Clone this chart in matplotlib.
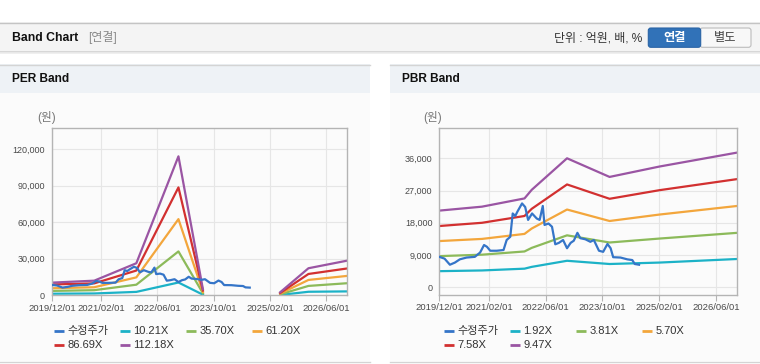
import numpy as np
import pandas as pd
import matplotlib
matplotlib.use('Agg')
import matplotlib.pyplot as plt
from matplotlib.patches import Rectangle, FancyBboxPatch
from matplotlib.ticker import FuncFormatter

plt.rcParams['font.family'] = ['Liberation Sans', 'Noto Sans CJK KR']

# ---------------- data ----------------
price_dates = ['2019-12-01', '2020-01-15', '2020-03-01', '2020-04-13', '2020-05-25', '2020-07-22',
               '2020-10-01', '2020-11-15', '2020-12-19', '2021-01-13', '2021-02-10', '2021-04-07',
               '2021-06-04', '2021-07-01', '2021-08-01', '2021-08-22', '2021-09-13', '2021-10-01',
               '2021-11-10', '2021-12-07', '2022-01-01', '2022-02-04', '2022-03-16', '2022-04-10',
               '2022-05-07', '2022-05-22', '2022-06-25', '2022-07-25', '2022-08-22', '2022-09-22',
               '2022-10-28', '2022-12-01', '2023-01-01', '2023-01-28', '2023-02-28', '2023-03-25',
               '2023-05-07', '2023-06-19', '2023-07-19', '2023-09-01', '2023-10-07', '2023-11-13',
               '2023-12-10', '2024-01-01', '2024-03-04', '2024-05-01', '2024-06-13', '2024-07-04',
               '2024-08-10']
price_values = [8500, 8000, 6300, 6900, 7800, 8300,
                8500, 9700, 11800, 11300, 10200, 10200,
                10400, 13200, 14100, 20600, 19900, 21100,
                23400, 22400, 18800, 20600, 19200, 18800,
                22700, 17400, 17800, 16900, 12000, 12400,
                13200, 10900, 12400, 13000, 15200, 13700,
                13400, 12700, 13200, 10200, 9900, 12100,
                10900, 8400, 8300, 7800, 7600, 6500,
                6300]

per_dates = ['2019-12-01', '2020-12-01', '2021-12-01', '2022-12-01', '2023-07-01',
             '2024-06-01', '2025-05-01', '2026-01-01', '2026-12-01']
per_labels = ['10.21X', '35.70X', '61.20X', '86.69X', '112.18X']
per_10 = [1300, 1500, 2800, 10500, 500, np.nan, 300, 2900, 3200]
per_35 = [3600, 4200, 8700, 36000, 1700, np.nan, 800, 7700, 9900]
per_61 = [5800, 6600, 14700, 62500, 2800, np.nan, 1400, 12600, 15900]
per_86 = [8900, 9800, 20300, 88500, 3900, np.nan, 1900, 17500, 22000]
per_112 = [10400, 12000, 26300, 114000, 5000, np.nan, 2500, 22200, 28400]

pbr_dates = ['2019-12-01', '2020-12-01', '2021-12-01', '2022-02-01', '2022-12-01',
             '2023-12-01', '2025-02-01', '2026-12-01']
pbr_labels = ['1.92X', '3.81X', '5.70X', '7.58X', '9.47X']
pbr_1 = [4500, 4700, 5200, 5700, 7400, 6500, 6900, 7900]
pbr_3 = [8700, 9100, 10000, 11000, 14500, 12500, 13600, 15200]
pbr_5 = [12900, 13500, 14900, 16400, 21700, 18500, 20300, 22700]
pbr_7 = [17100, 18000, 19900, 21900, 28700, 24700, 27100, 30200]
pbr_9 = [21400, 22500, 24800, 27200, 36000, 30800, 33700, 37600]

xtick_labels = ['2019/12/01', '2021/02/01', '2022/06/01', '2023/10/01', '2025/02/01', '2026/06/01']
per_yticks = [0, 30000, 60000, 90000, 120000]
pbr_yticks = [0, 9000, 18000, 27000, 36000]

price_label = '수정주가'
colors = ['#3575c8', '#1cb2c7', '#8cba5a', '#f3a63c', '#d23030', '#9a55a3']

# ---------------- figure ----------------
W, H = 760, 364
fig = plt.figure(figsize=(W / 100, H / 100), dpi=100, facecolor='white')
bg = fig.add_axes([0, 0, 1, 1])
bg.set_xlim(0, W)
bg.set_ylim(H, 0)
bg.axis('off')

# header bar
bg.add_patch(Rectangle((0, 22), W, 30, fc='#f4f4f4', ec='none'))
bg.plot([0, W], [22.5, 22.5], color='#c4c4c4', lw=1)
bg.plot([0, W], [51.5, 51.5], color='#d4d4d4', lw=1.3)
bg.plot([0, W], [53, 53], color='#ececec', lw=1.2)
bg.text(12, 38, 'Band Chart', fontsize=8.8, fontweight='bold', color='#111111', va='center')
bg.text(88, 38, '[연결]', fontsize=8.6, color='#8a8a8a', va='center')
bg.text(642, 38.5, '단위 : 억원, 배, %', fontsize=8.6, color='#333333', va='center', ha='right')
bg.add_patch(FancyBboxPatch((700, 28), 51, 19.3, boxstyle='round,pad=0,rounding_size=2.5',
                            fc='#f8f8f8', ec='#bcbcbc', lw=0.8))
bg.add_patch(FancyBboxPatch((648.3, 28), 52.4, 19.3, boxstyle='round,pad=0,rounding_size=2.5',
                            fc='#3172b8', ec='#2a64a6', lw=0.8))
bg.text(674.5, 38, '연결', fontsize=8.8, fontweight='bold', color='white', ha='center', va='center')
bg.text(725.5, 38, '별도', fontsize=8.8, color='#444444', ha='center', va='center')

# panels
for px0, title in [(0, 'PER Band'), (390, 'PBR Band')]:
    bg.add_patch(Rectangle((px0, 64), 370, 297, fc='#fbfbfb', ec='none'))
    bg.add_patch(Rectangle((px0, 64), 370, 29, fc='#eef2f6', ec='none'))
    bg.plot([px0, px0 + 370], [64.5, 64.5], color='#d4d4d4', lw=1)
    bg.plot([px0, px0 + 370], [361.5, 361.5], color='#d4d4d4', lw=1)
    bg.text(px0 + 12, 79, title, fontsize=8.6, fontweight='bold', color='#111111', va='center')

bg.text(37, 117, '(원)', fontsize=8.4, color='#777777', va='center')
bg.text(423, 117, '(원)', fontsize=8.4, color='#777777', va='center')

xt = pd.to_datetime([s.replace('/', '-') for s in xtick_labels])
xlim = (pd.Timestamp('2019-12-01'), pd.Timestamp('2026-12-01'))


def style_axes(ax, yticks, ylim):
    ax.set_facecolor('none')
    ax.set_xlim(*xlim)
    ax.set_ylim(*ylim)
    ax.set_xticks(xt)
    ax.set_xticklabels(xtick_labels)
    ax.set_yticks(yticks)
    ax.yaxis.set_major_formatter(FuncFormatter(lambda v, p: f'{int(v):,}'))
    ax.grid(True, color='#e6e6e6', lw=0.8)
    ax.set_axisbelow(True)
    for s in ax.spines.values():
        s.set_color('#b4b4b4')
        s.set_linewidth(1.0)
    ax.tick_params(axis='x', length=4, color='#b4b4b4', labelsize=6.8, labelcolor='#4a4a4a', pad=2)
    ax.tick_params(axis='y', length=0, labelsize=6.5, labelcolor='#4a4a4a', pad=5)


# PER chart
ax1 = fig.add_axes([52 / W, 1 - 295.3 / H, 295 / W, 167 / H])
style_axes(ax1, per_yticks, (0, 137000))
pd_per = pd.to_datetime(per_dates)
for vals, c in zip([per_10, per_35, per_61, per_86, per_112], colors[1:]):
    ax1.plot(pd_per, vals, color=c, lw=1.6)
ax1.plot(pd.to_datetime(price_dates), price_values, color=colors[0], lw=1.6, zorder=3)

# PBR chart
ax2 = fig.add_axes([439.3 / W, 1 - 295 / H, 298 / W, 166.7 / H])
style_axes(ax2, pbr_yticks, (-2150, 44370))
pd_pbr = pd.to_datetime(pbr_dates)
for vals, c in zip([pbr_1, pbr_3, pbr_5, pbr_7, pbr_9], colors[1:]):
    ax2.plot(pd_pbr, vals, color=c, lw=1.6)
ax2.plot(pd.to_datetime(price_dates), price_values, color=colors[0], lw=1.6, zorder=3)


# legends
def draw_legend(x0, labels):
    items = [price_label] + labels
    for i, (lab, c) in enumerate(zip(items, colors)):
        row, col = divmod(i, 4)
        x = x0 + col * 66
        y = 331 + row * 14
        bg.plot([x, x + 10.5], [y, y], color=c, lw=2, solid_capstyle='butt')
        bg.text(x + 14, y, lab, fontsize=8.0, color='#333333', va='center')


draw_legend(53.5, per_labels)
draw_legend(443.5, pbr_labels)

fig.savefig('out.png', dpi=100, facecolor='white')
